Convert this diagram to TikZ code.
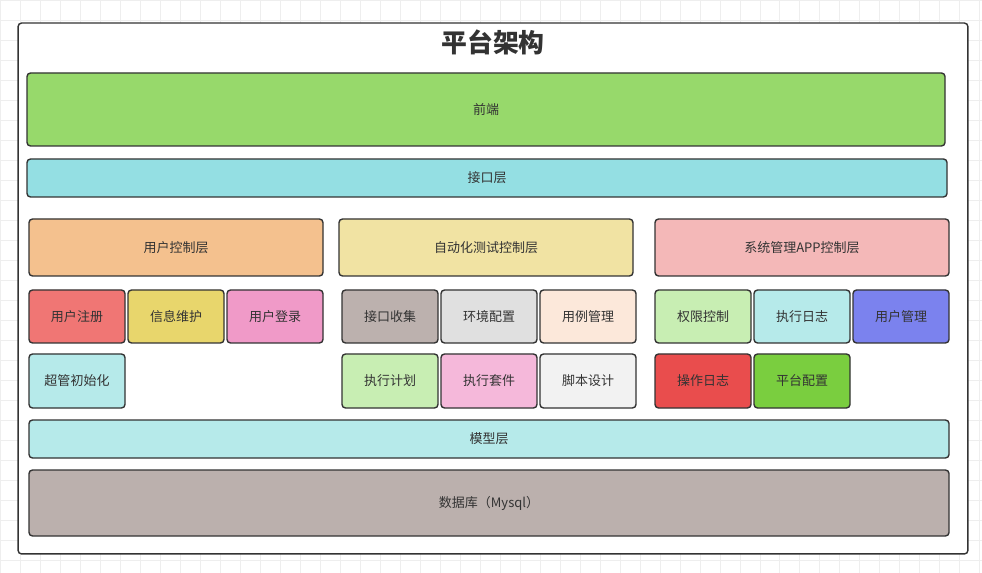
\documentclass[tikz,border=0pt]{standalone}
\usepackage{fontspec}
\setmainfont{Noto Sans CJK SC}
\usetikzlibrary{positioning}
\definecolor{cFront}{HTML}{97D96B}
\definecolor{cApi}{HTML}{94DFE3}
\definecolor{cUser}{HTML}{F4C18E}
\definecolor{cAuto}{HTML}{F1E3A3}
\definecolor{cSys}{HTML}{F4B8B8}
\definecolor{cRed}{HTML}{F07674}
\definecolor{cYel}{HTML}{E8D66C}
\definecolor{cPink}{HTML}{F09AC8}
\definecolor{cTaupe}{HTML}{BCB1AE}
\definecolor{cGray}{HTML}{E0E0E0}
\definecolor{cPeach}{HTML}{FCE8DA}
\definecolor{cLgreen}{HTML}{C8EEB3}
\definecolor{cCyan}{HTML}{B6EAEA}
\definecolor{cBlue}{HTML}{7B82EE}
\definecolor{cLpink}{HTML}{F5B8DA}
\definecolor{cWhite}{HTML}{F2F2F2}
\definecolor{cDred}{HTML}{E94D4D}
\definecolor{cGreen}{HTML}{7ACE3F}
\definecolor{cDb}{HTML}{BBB0AD}
\definecolor{cGrid}{HTML}{EEEEEE}
\tikzset{
  blk/.style={draw=black!80, line width=0.8pt, rounded corners=2pt,
    font=\fontsize{7.4pt}{9pt}\selectfont, text=black!80, inner sep=0pt}
}
\newcommand{\blk}[7]{%
  \node[blk, fill=#6, minimum width={(#4-#2)*0.02cm}, minimum height={(#5-#3)*0.02cm}]
    (#1) at ({(#2+#4)/2},{(#3+#5)/2}) {#7};}

\begin{document}
\begin{tikzpicture}[x=0.02cm, y=-0.02cm]
  \useasboundingbox (0,0) rectangle (982,573);
  % background grid
  \fill[white] (0,0) rectangle (982,573);
  \draw[cGrid, step=0.4cm] (0,0) grid (982,573);
  % frame
  \node[draw=black!80, line width=0.8pt, rounded corners=2pt, fill=white,
    minimum width=19cm, minimum height=10.62cm, inner sep=0pt] (frame) at (493,288.5) {};
  \node[font=\fontsize{14.7pt}{16pt}\selectfont\bfseries, text=black!80] (title) at (493,42) {平台架构};

  \blk{front}{27}{73}{945}{146}{cFront}{前端}
  \blk{api}{27}{159}{947}{197}{cApi}{接口层}

  \blk{userctl}{29}{219}{323}{276}{cUser}{用户控制层}
  \blk{autoctl}{339}{219}{633}{276}{cAuto}{自动化测试控制层}
  \blk{sysctl}{655}{219}{949}{276}{cSys}{系统管理APP控制层}

  % row 1
  \blk{reg}{29}{290}{125}{343}{cRed}{用户注册}
  \blk{info}{128}{290}{224}{343}{cYel}{信息维护}
  \blk{login}{227}{290}{323}{343}{cPink}{用户登录}
  \blk{collect}{342}{290}{438}{343}{cTaupe}{接口收集}
  \blk{env}{441}{290}{537}{343}{cGray}{环境配置}
  \blk{case}{540}{290}{636}{343}{cPeach}{用例管理}
  \blk{perm}{655}{290}{751}{343}{cLgreen}{权限控制}
  \blk{execlog}{754}{290}{850}{343}{cCyan}{执行日志}
  \blk{usermgr}{853}{290}{949}{343}{cBlue}{用户管理}

  % row 2
  \blk{init}{29}{354}{125}{408}{cCyan}{超管初始化}
  \blk{plan}{342}{354}{438}{408}{cLgreen}{执行计划}
  \blk{suite}{441}{354}{537}{408}{cLpink}{执行套件}
  \blk{script}{540}{354}{636}{408}{cWhite}{脚本设计}
  \blk{oplog}{655}{354}{751}{408}{cDred}{操作日志}
  \blk{platcfg}{754}{354}{850}{408}{cGreen}{平台配置}

  \blk{model}{29}{420}{949}{458}{cCyan}{模型层}
  \blk{db}{29}{470}{949}{536}{cDb}{数据库（Mysql）}
\end{tikzpicture}
\end{document}
